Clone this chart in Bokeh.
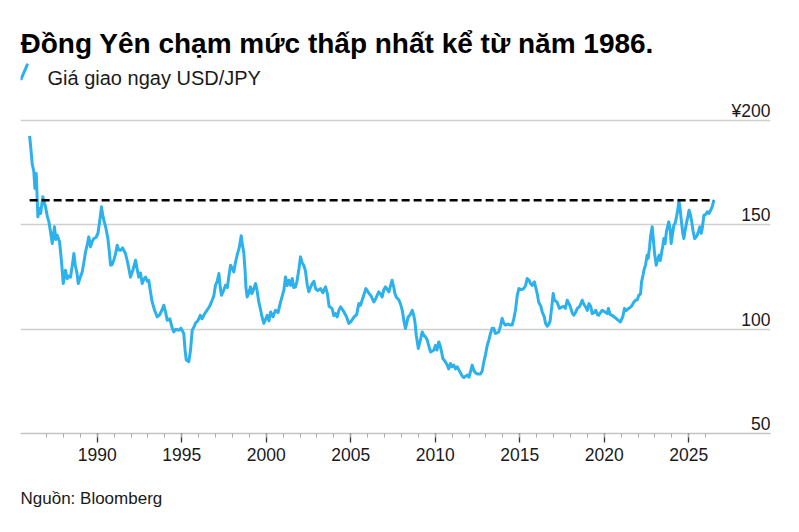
from bokeh.plotting import figure
from bokeh.models import Range1d, FixedTicker, Grid, Label, PolyAnnotation, Title
from bokeh.core.properties import value
from bokeh.embed import file_html
from bokeh.resources import INLINE

# USD/JPY spot rate, sampled roughly monthly (fractional years)
dates = [
    1986.00, 1986.08, 1986.15, 1986.25, 1986.31, 1986.39, 1986.49, 1986.57, 1986.65, 1986.78,
    1986.94, 1987.05, 1987.14, 1987.25, 1987.34, 1987.47, 1987.55, 1987.63, 1987.77, 1987.88,
    1987.99, 1988.12, 1988.22, 1988.32, 1988.42, 1988.55, 1988.62, 1988.70, 1988.80, 1988.88,
    1989.00, 1989.11, 1989.21, 1989.31, 1989.42, 1989.50, 1989.60, 1989.70, 1989.80, 1989.92,
    1990.04, 1990.15, 1990.25, 1990.32, 1990.39, 1990.50, 1990.63, 1990.72, 1990.79, 1990.88,
    1990.98, 1991.08, 1991.18, 1991.28, 1991.38, 1991.50, 1991.67, 1991.80, 1991.97, 1992.10,
    1992.27, 1992.36, 1992.46, 1992.56, 1992.66, 1992.76, 1992.86, 1992.96, 1993.05, 1993.15,
    1993.25, 1993.40, 1993.55, 1993.70, 1993.82, 1993.94, 1994.05, 1994.14, 1994.30, 1994.42,
    1994.53, 1994.65, 1994.83, 1994.95, 1995.05, 1995.12, 1995.20, 1995.27, 1995.42, 1995.52,
    1995.62, 1995.72, 1995.82, 1995.95, 1996.10, 1996.20, 1996.31, 1996.40, 1996.50, 1996.65,
    1996.80, 1996.90, 1997.00, 1997.10, 1997.20, 1997.28, 1997.35, 1997.45, 1997.59, 1997.70,
    1997.80, 1997.89, 1998.00, 1998.08, 1998.18, 1998.28, 1998.40, 1998.52, 1998.60, 1998.67,
    1998.75, 1998.80, 1998.87, 1998.95, 1999.07, 1999.15, 1999.25, 1999.37, 1999.45, 1999.56,
    1999.65, 1999.75, 1999.86, 2000.06, 2000.16, 2000.26, 2000.40, 2000.55, 2000.70, 2000.85,
    2000.95, 2001.05, 2001.14, 2001.24, 2001.34, 2001.45, 2001.54, 2001.63, 2001.73, 2001.82,
    2001.92, 2002.03, 2002.12, 2002.22, 2002.32, 2002.43, 2002.52, 2002.62, 2002.72, 2002.82,
    2002.92, 2003.05, 2003.21, 2003.35, 2003.51, 2003.62, 2003.72, 2003.90, 2004.00, 2004.10,
    2004.20, 2004.30, 2004.40, 2004.50, 2004.60, 2004.75, 2004.89, 2005.00, 2005.20, 2005.35,
    2005.48, 2005.58, 2005.68, 2005.90, 2006.08, 2006.20, 2006.37, 2006.50, 2006.66, 2006.76,
    2006.86, 2006.96, 2007.06, 2007.16, 2007.26, 2007.36, 2007.45, 2007.55, 2007.62, 2007.69,
    2007.85, 2007.95, 2008.05, 2008.15, 2008.24, 2008.32, 2008.40, 2008.52, 2008.64, 2008.72,
    2008.80, 2008.88, 2009.00, 2009.10, 2009.23, 2009.33, 2009.43, 2009.52, 2009.62, 2009.72,
    2009.82, 2009.92, 2010.02, 2010.10, 2010.21, 2010.30, 2010.38, 2010.45, 2010.55, 2010.63,
    2010.71, 2010.80, 2010.90, 2011.00, 2011.10, 2011.20, 2011.30, 2011.40, 2011.50, 2011.60,
    2011.70, 2011.80, 2011.90, 2012.00, 2012.10, 2012.19, 2012.30, 2012.40, 2012.50, 2012.60,
    2012.68, 2012.78, 2012.88, 2012.98, 2013.08, 2013.18, 2013.27, 2013.37, 2013.47, 2013.55,
    2013.65, 2013.76, 2013.86, 2013.96, 2014.05, 2014.15, 2014.30, 2014.46, 2014.55, 2014.65,
    2014.75, 2014.85, 2014.95, 2015.10, 2015.24, 2015.35, 2015.44, 2015.55, 2015.64, 2015.74,
    2015.87, 2015.95, 2016.04, 2016.12, 2016.25, 2016.33, 2016.45, 2016.53, 2016.63, 2016.73,
    2016.80, 2016.90, 2016.98, 2017.05, 2017.20, 2017.35, 2017.50, 2017.60, 2017.70, 2017.81,
    2017.90, 2018.00, 2018.10, 2018.20, 2018.30, 2018.40, 2018.55, 2018.70, 2018.80, 2018.90,
    2019.00, 2019.10, 2019.20, 2019.29, 2019.40, 2019.50, 2019.60, 2019.68, 2019.78, 2019.88,
    2020.00, 2020.18, 2020.25, 2020.35, 2020.47, 2020.58, 2020.70, 2020.80, 2020.96, 2021.10,
    2021.20, 2021.30, 2021.45, 2021.55, 2021.65, 2021.75, 2021.85, 2021.95, 2022.05, 2022.15,
    2022.21, 2022.30, 2022.35, 2022.45, 2022.54, 2022.60, 2022.68, 2022.74, 2022.84, 2022.92,
    2022.98, 2023.08, 2023.15, 2023.25, 2023.32, 2023.40, 2023.47, 2023.53, 2023.60, 2023.68,
    2023.82, 2023.90, 2023.96, 2024.05, 2024.12, 2024.20, 2024.28, 2024.35, 2024.42, 2024.50,
    2024.56, 2024.65, 2024.71, 2024.78, 2024.87, 2024.95, 2025.02, 2025.10, 2025.18, 2025.26,
    2025.35, 2025.42, 2025.50, 2025.58, 2025.66, 2025.74, 2025.80, 2025.90, 2026.00, 2026.10,
    2026.20, 2026.30, 2026.40, 2026.49,
]
usd_jpy = [
    192.7, 186.0, 179.5, 175.5, 167.5, 174.7, 153.9, 158.0, 155.5, 163.5,
    158.7, 154.0, 151.5, 146.0, 141.1, 149.1, 143.0, 145.1, 142.0, 133.0,
    121.9, 128.3, 124.3, 125.5, 125.0, 132.0, 136.3, 130.7, 127.0, 121.9,
    125.0, 127.5, 132.0, 137.1, 141.0, 144.3, 139.5, 142.0, 143.5, 144.0,
    145.9, 152.0, 158.7, 155.0, 152.3, 149.0, 143.5, 137.0, 130.7, 131.0,
    133.1, 136.0, 140.3, 138.0, 137.9, 139.0, 136.3, 132.0, 125.0, 128.0,
    133.1, 129.0, 125.0, 127.0, 121.9, 124.0, 125.0, 123.0, 123.4, 118.0,
    113.1, 109.0, 105.9, 107.0, 109.0, 111.5, 108.0, 104.3, 105.0, 101.0,
    98.7, 100.0, 99.5, 100.5, 99.0, 98.0, 90.0, 85.2, 84.4, 90.0,
    99.5, 101.0, 103.0, 104.0, 106.7, 105.0, 106.7, 108.0, 109.1, 111.0,
    113.9, 116.0, 121.1, 123.0, 126.7, 120.0, 116.3, 118.0, 121.1, 120.0,
    126.0, 130.7, 129.0, 127.5, 132.0, 135.5, 139.0, 144.8, 140.0, 137.0,
    128.0, 120.0, 115.5, 117.0, 120.3, 117.0, 119.0, 121.9, 119.0, 113.1,
    110.0, 106.0, 102.8, 106.7, 104.0, 108.3, 106.0, 109.1, 108.0, 113.1,
    116.0, 119.0, 125.1, 121.0, 123.5, 121.0, 124.3, 120.0, 120.3, 123.0,
    128.0, 134.7, 132.0, 130.7, 128.0, 121.1, 118.0, 120.0, 121.9, 123.0,
    119.5, 118.5, 119.5, 117.5, 120.3, 117.0, 111.0, 109.9, 106.5, 107.5,
    105.9, 109.0, 110.7, 109.5, 108.3, 106.0, 102.8, 103.5, 105.9, 107.0,
    112.3, 111.5, 114.0, 119.5, 117.1, 116.0, 113.1, 115.0, 117.9, 117.0,
    115.5, 119.0, 120.3, 119.0, 117.9, 121.0, 123.5, 120.0, 117.0, 115.5,
    114.0, 112.0, 109.1, 104.0, 100.4, 103.0, 105.9, 107.0, 109.1, 107.0,
    103.5, 97.0, 90.8, 94.0, 98.7, 97.0, 96.3, 95.0, 92.0, 89.1,
    89.5, 90.0, 92.3, 90.0, 93.9, 92.0, 89.0, 86.0, 85.0, 84.0,
    82.8, 81.0, 83.6, 82.0, 82.8, 81.0, 82.0, 80.5, 79.0, 77.5,
    76.8, 77.5, 78.0, 77.0, 80.0, 82.8, 80.0, 79.0, 78.5, 78.5,
    78.5, 80.0, 84.4, 88.0, 92.3, 95.0, 98.0, 100.5, 100.4, 98.0,
    98.2, 98.7, 101.5, 105.2, 103.0, 102.0, 102.5, 102.0, 102.0, 105.0,
    109.1, 116.0, 119.5, 119.0, 119.5, 121.0, 124.3, 123.5, 121.9, 121.0,
    122.7, 120.0, 117.0, 113.0, 111.0, 108.3, 106.0, 102.8, 101.5, 102.4,
    104.0, 111.0, 117.1, 114.0, 113.1, 110.0, 110.7, 111.0, 110.0, 113.9,
    112.5, 110.7, 108.0, 106.7, 108.0, 109.9, 111.0, 113.9, 112.0, 110.7,
    109.0, 112.3, 111.0, 107.5, 108.0, 109.1, 107.0, 106.7, 108.0, 109.1,
    108.5, 107.5, 110.0, 107.0, 106.7, 106.0, 105.2, 104.5, 103.5, 106.0,
    110.0, 109.0, 110.0, 110.5, 111.5, 113.0, 113.9, 114.0, 116.3, 117.0,
    122.7, 126.0, 128.3, 131.0, 135.5, 134.0, 139.0, 144.3, 149.1, 142.0,
    136.3, 130.7, 133.0, 135.5, 133.0, 137.0, 140.0, 143.5, 141.0, 146.7,
    151.5, 148.0, 141.1, 146.0, 149.9, 151.0, 153.9, 157.0, 161.9, 157.0,
    152.3, 146.0, 143.5, 147.0, 151.0, 154.0, 157.1, 155.0, 151.5, 147.0,
    143.5, 144.0, 145.1, 147.0, 149.1, 146.0, 148.3, 154.7, 155.0, 156.3,
    155.5, 157.1, 159.0, 161.9,
]

# level of the 1986 low, drawn as a dashed reference line
reference_level = 161.9

x_major_ticks = [1990, 1995, 2000, 2005, 2010, 2015, 2020, 2025]
x_minor_ticks = list(range(1987, 2027))
y_tick_values = [50, 100, 150, 200]
y_tick_labels = ["50", "100", "150", "¥200"]

title_text = "Đồng Yên chạm mức thấp nhất kể từ năm 1986."
legend_text = "Giá giao ngay USD/JPY"
source_text = "Nguồn: Bloomberg"

FONT = "Liberation Sans"
LINE_COLOR = "#2cb1ec"
TEXT_COLOR = "#1a1a1a"

# the frame runs from the top of the canvas down to the x axis, so the
# header sits inside it; 2.0853 px per yen
x_start, x_end = 1985.46, 2029.84
y_start, y_end = 50, 257.65

p = figure(
    width=799, height=532,
    x_range=Range1d(x_start, x_end), y_range=Range1d(y_start, y_end),
    output_backend="svg", toolbar_location=None,
    y_axis_location=None,
    min_border_left=20, min_border_right=29,
    min_border_top=0, min_border_bottom=99,
    outline_line_color=None, background_fill_color="white",
    border_fill_color="white",
)

for g in p.grid:
    g.visible = False
p.add_layout(Grid(dimension=1, ticker=FixedTicker(ticks=y_tick_values),
                  grid_line_color="#cfcfcf", grid_line_width=1.5))

xa = p.xaxis[0]
xa.ticker = FixedTicker(ticks=x_major_ticks, minor_ticks=x_minor_ticks)
xa.axis_line_color = "#c4c4c4"
xa.axis_line_width = 1.5
xa.major_tick_line_color = "#333333"
xa.major_tick_line_width = 1.3
xa.major_tick_out = 9
xa.major_tick_in = 0
xa.minor_tick_line_color = "#aaaaaa"
xa.minor_tick_line_width = 1
xa.minor_tick_out = 4
xa.minor_tick_in = 0
xa.major_label_text_font = FONT
xa.major_label_text_font_size = "17.5px"
xa.major_label_text_color = TEXT_COLOR
xa.major_label_standoff = 5

# value labels sit just above their gridlines, flush with the right edge
p.text(x=[x_end] * len(y_tick_values), y=y_tick_values, text=y_tick_labels,
       text_align="right", text_baseline="alphabetic", y_offset=-10,
       text_font=value(FONT), text_font_size="17.5px", text_color=TEXT_COLOR)

p.line(dates, usd_jpy, line_color=LINE_COLOR, line_width=3, line_join="round")

p.line([dates[0], dates[-1]], [reference_level, reference_level],
       line_color="black", line_width=2.5, line_dash="8 4")

# header and legend key, in pixels from the frame's lower-left corner
p.add_layout(Label(x=0, y=390.5, x_units="screen", y_units="screen", text=title_text,
                   text_font=FONT, text_font_size="28px", text_font_style="bold",
                   text_color="black", text_baseline="alphabetic"))
p.add_layout(PolyAnnotation(xs=[0.7, 6.7], ys=[354.7, 368.7], xs_units="screen", ys_units="screen",
                            line_color=LINE_COLOR, line_alpha=1.0, line_width=3,
                            line_cap="round", fill_alpha=0))
p.add_layout(Label(x=27, y=356, x_units="screen", y_units="screen", text=legend_text,
                   text_font=FONT, text_font_size="20px", text_color=TEXT_COLOR,
                   text_baseline="alphabetic"))

# source line under the axis
p.add_layout(Title(text=source_text, align="left", text_font=FONT,
                   text_font_size="17px", text_font_style="normal",
                   text_color=TEXT_COLOR, standoff=46), "below")

open("out.html", "w").write(file_html(p, INLINE))
